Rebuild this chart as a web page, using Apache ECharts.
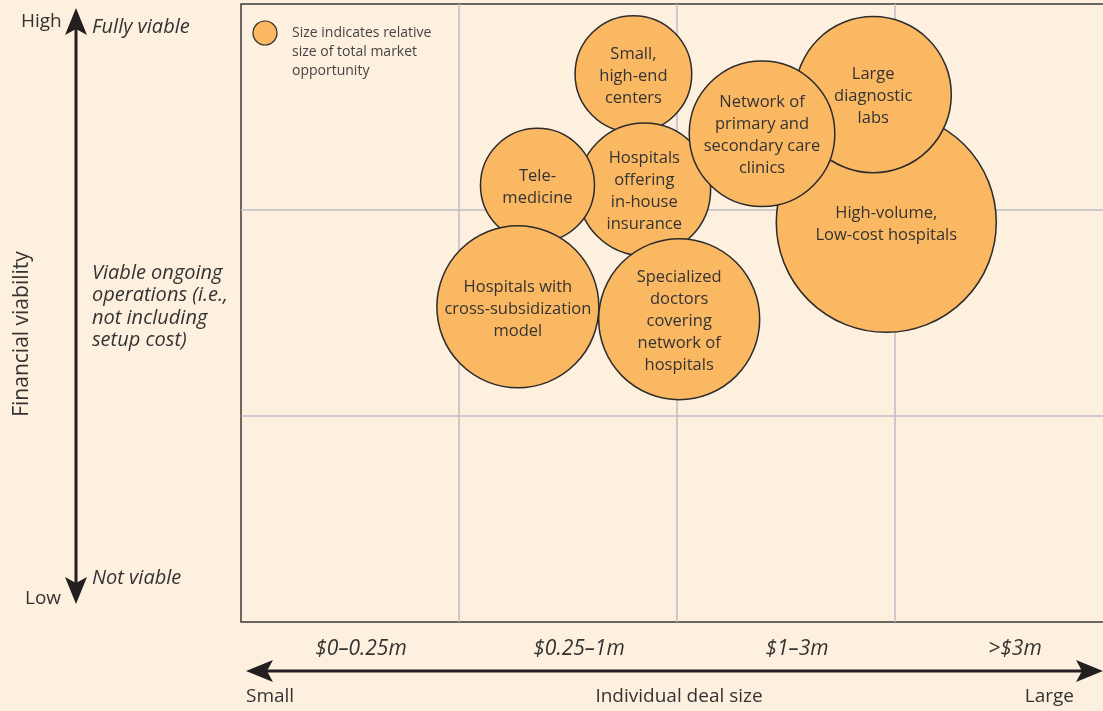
<!DOCTYPE html>
<html><head><meta charset="utf-8">
<script src="https://cdn.jsdelivr.net/npm/echarts@6/dist/echarts.min.js"></script>
<style>html,body{margin:0;padding:0;background:#FDF0DE;} #c{width:1103px;height:711px;}</style>
</head><body><div id="c"></div>
<script>
// ---- data ----
const segmentNames = [
  'High-volume,\nLow-cost hospitals',
  'Large\ndiagnostic\nlabs',
  'Small,\nhigh-end\ncenters',
  'Hospitals\noffering\nin-house\ninsurance',
  'Tele-\nmedicine',
  'Network of\nprimary and\nsecondary care\nclinics',
  'Hospitals with\ncross-subsidization\nmodel',
  'Specialized\ndoctors\ncovering\nnetwork of\nhospitals'
];
// x: deal size band position (0-4), y: financial viability (0-3)
const dealSize   = [2.96, 2.90, 1.80, 1.85, 1.36, 2.39, 1.27, 2.01];
const viability  = [1.94, 2.56, 2.66, 2.10, 2.12, 2.37, 1.53, 1.47];
// relative size of total market opportunity
const opportunity = [121, 61, 34, 44, 32.5, 53, 65.6, 64.8];
const dealSizeBands = ['$0\u20130.25m', '$0.25\u20131m', '$1\u20133m', '>$3m'];

const FONT = '"Open Sans", "Noto Sans", sans-serif';
const TXT = '#333333';
const ORANGE = '#FBB862';
const DARK = '#231F20';

const chart = echarts.init(document.getElementById('c'), null, {renderer: 'canvas'});
const pts = segmentNames.map((n, i) => ({name: n, value: [dealSize[i], viability[i], opportunity[i]]}));

chart.setOption({
  backgroundColor: '#FDF0DE',
  animation: false,
  grid: {left: 241, top: 4, width: 872, height: 618, outerBoundsMode: 'none', containLabel: false,
         show: true, borderColor: '#3a3a3a', borderWidth: 1.5, backgroundColor: 'transparent'},
  xAxis: [
    {type: 'value', min: 0, max: 4, interval: 1,
     axisLine: {show: false}, axisTick: {show: false}, axisLabel: {show: false},
     splitLine: {show: true, showMinLine: false, showMaxLine: false, lineStyle: {color: '#BDBDC6', width: 1.5}}},
    {type: 'category', data: dealSizeBands, position: 'bottom',
     axisLine: {show: false}, axisTick: {show: false}, splitLine: {show: false},
     axisLabel: {show: true, margin: 17, fontSize: 21, fontStyle: 'italic', color: TXT, fontFamily: FONT, padding: [0, 0, 0, 22]}}
  ],
  yAxis: {type: 'value', min: 0, max: 3, interval: 1,
    axisLine: {show: false}, axisTick: {show: false}, axisLabel: {show: false},
    splitLine: {show: true, showMinLine: false, showMaxLine: false, lineStyle: {color: '#BDBDC6', width: 1.5}}},
  series: [{
    type: 'scatter',
    xAxisIndex: 0,
    data: pts,
    symbolSize: v => 20 * Math.sqrt(v[2]),
    itemStyle: {color: ORANGE, borderColor: '#2b2b2b', borderWidth: 1.5, opacity: 1},
    emphasis: {disabled: true},
    label: {show: true, position: 'inside', offset: [0, 2], formatter: p => p.name, color: TXT,
            fontSize: 16.5, lineHeight: 22, fontFamily: FONT, align: 'center'}
  }],
  graphic: [
    // legend
    {type: 'circle', shape: {cx: 265, cy: 33, r: 12}, style: {fill: ORANGE, stroke: '#2b2b2b', lineWidth: 1.2}},
    {type: 'text', left: 292, top: 24, style: {text: 'Size indicates relative\nsize of total market\nopportunity', font: '14px ' + FONT, fill: '#444', lineHeight: 19}},
    // vertical arrow
    {type: 'line', shape: {x1: 76, y1: 28, x2: 76, y2: 584}, style: {stroke: DARK, lineWidth: 3}},
    {type: 'polygon', shape: {points: [[76, 8], [87, 35], [76, 29], [65, 35]]}, style: {fill: DARK}},
    {type: 'polygon', shape: {points: [[76, 604], [87, 577], [76, 583], [65, 577]]}, style: {fill: DARK}},
    {type: 'text', left: 21, top: 12, style: {text: 'High', font: '19px ' + FONT, fill: TXT}},
    {type: 'text', left: 25, top: 589, style: {text: 'Low', font: '19px ' + FONT, fill: TXT}},
    {type: 'text', left: 92, top: 17, style: {text: 'Fully viable', font: 'italic 20px ' + FONT, fill: TXT}},
    {type: 'text', left: 92, top: 568, style: {text: 'Not viable', font: 'italic 20px ' + FONT, fill: TXT}},
    {type: 'text', left: 92, top: 262, style: {text: 'Viable ongoing\noperations (i.e.,\nnot including\nsetup cost)', font: 'italic 20px ' + FONT, fill: TXT, lineHeight: 22.5}},
    {type: 'text', x: 22, y: 334, rotation: Math.PI / 2, style: {text: 'Financial viability', font: '21px ' + FONT, fill: TXT, align: 'center', verticalAlign: 'middle'}},
    // horizontal arrow
    {type: 'line', shape: {x1: 266, y1: 671, x2: 1083, y2: 671}, style: {stroke: DARK, lineWidth: 3}},
    {type: 'polygon', shape: {points: [[246, 671], [273, 660], [267, 671], [273, 682]]}, style: {fill: DARK}},
    {type: 'polygon', shape: {points: [[1103, 671], [1076, 660], [1082, 671], [1076, 682]]}, style: {fill: DARK}},
    {type: 'text', x: 246, y: 697, style: {text: 'Small', font: '19px ' + FONT, fill: TXT, verticalAlign: 'middle'}},
    {type: 'text', x: 679, y: 697, style: {text: 'Individual deal size', font: '19px ' + FONT, fill: TXT, align: 'center', verticalAlign: 'middle'}},
    {type: 'text', x: 1074, y: 697, style: {text: 'Large', font: '19px ' + FONT, fill: TXT, align: 'right', verticalAlign: 'middle'}}
  ]
});
</script></body></html>
